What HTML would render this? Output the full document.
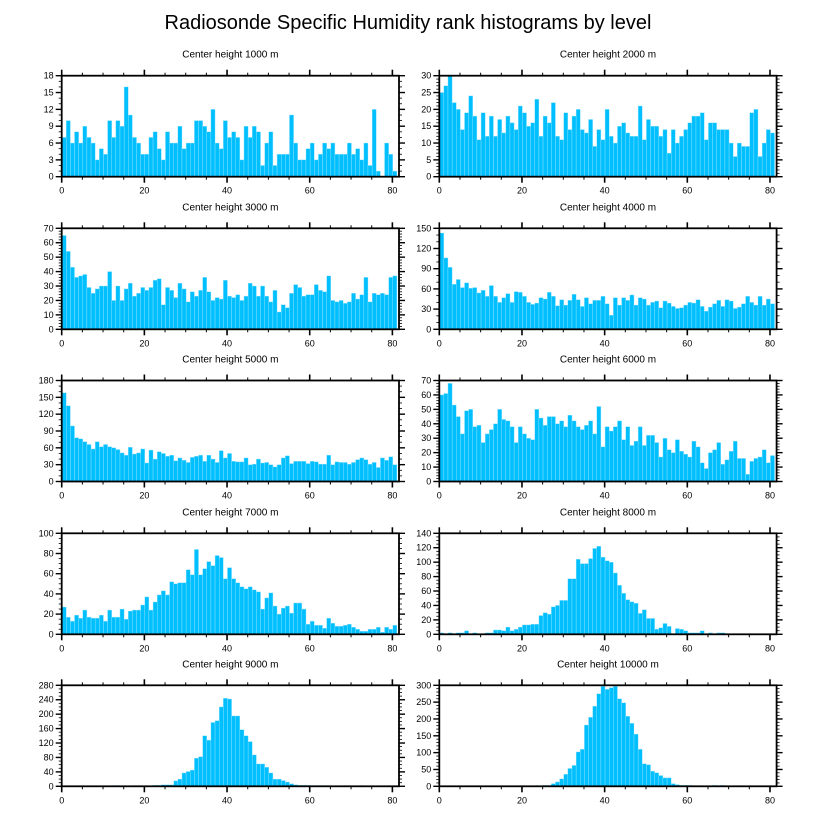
<!DOCTYPE html>
<html><head><meta charset="utf-8"><style>
html,body{margin:0;padding:0;background:#fff;}
svg{display:block;font-family:"Liberation Sans",sans-serif;}
</style></head><body>
<svg id="chart" width="816" height="824" viewBox="0 0 816 824" xmlns="http://www.w3.org/2000/svg">
<text x="408" y="29" text-anchor="middle" font-size="20" fill="#000">Radiosonde Specific Humidity rank histograms by level</text>
</svg>
<script>
const panelTitles = ["Center height 1000 m","Center height 2000 m","Center height 3000 m","Center height 4000 m","Center height 5000 m","Center height 6000 m","Center height 7000 m","Center height 8000 m","Center height 9000 m","Center height 10000 m"];
const yMaxes = [18,30,70,150,180,70,100,140,280,300];
const yMajor = [3,5,10,30,30,10,20,20,40,50];
const yMinor = [1,1,2,10,10,2,5,5,10,10];
const xTicks = [0,20,40,60,80];
const h1000 = [7,10,6,8,6,9,7,6,3,5,4,10,7,10,9,16,11,7,6,4,4,7,8,5,3,8,6,6,9,5,6,6,10,10,9,8,12,6,5,10,7,8,7,3,9,7,9,8,2,6,8,2,4,4,4,11,6,3,3,5,6,3,4,6,5,6,4,4,4,6,4,5,3,6,2,12,1,0,6,4,1];
const h2000 = [25,27,30,22,20,14,19,24,18,11,19,12,18,12,17,13,18,16,14,21,19,15,16,23,12,18,16,22,12,11,19,14,18,20,14,13,17,9,14,11,20,12,10,15,16,13,12,12,21,11,17,15,15,12,14,7,14,10,12,14,16,18,18,19,11,16,16,14,14,14,10,6,10,9,9,19,20,6,10,14,13];
const h3000 = [65,54,43,36,37,38,29,25,28,30,30,40,20,30,20,28,32,23,25,29,27,29,34,35,17,29,27,22,32,28,19,26,23,27,36,26,20,22,21,34,23,22,24,20,23,32,30,23,30,23,19,27,12,17,15,25,31,29,23,24,24,31,27,26,37,20,19,20,18,19,25,21,24,36,19,25,24,25,24,36,37];
const h4000 = [143,106,92,67,74,62,69,61,62,54,58,49,65,49,40,47,53,40,56,55,49,40,37,39,47,45,55,49,35,44,36,43,52,44,34,47,38,43,43,49,38,21,47,36,47,43,51,36,47,45,36,40,42,32,42,39,34,31,32,36,40,39,44,34,27,33,38,43,34,44,42,31,33,38,49,40,36,49,36,45,38];
const h5000 = [158,135,99,78,76,71,66,58,71,62,66,62,60,57,51,47,61,49,51,58,33,56,40,53,50,45,47,37,42,38,34,43,45,47,36,47,40,34,55,42,50,36,35,35,42,30,31,40,33,34,30,26,30,42,46,32,36,36,36,32,36,35,31,31,47,30,35,34,34,31,34,39,42,39,31,34,25,42,38,44,30];
const h6000 = [60,61,68,53,45,33,49,50,38,39,27,33,36,40,50,43,42,38,27,38,33,30,29,50,44,39,45,45,40,42,38,46,42,38,36,39,42,33,52,24,38,35,38,42,29,38,25,28,38,25,32,32,27,17,30,22,20,29,21,19,17,28,24,13,9,20,22,27,12,15,21,28,16,16,5,14,16,17,22,13,18];
const h7000 = [27,17,13,19,16,24,17,16,16,19,13,24,17,17,25,15,23,24,24,29,37,24,32,39,43,39,52,50,51,51,64,59,84,59,65,72,68,78,76,55,66,55,51,47,45,47,44,42,25,36,41,28,20,26,28,21,31,31,25,10,13,9,9,6,16,11,8,8,9,10,7,5,3,3,5,5,7,2,7,5,9];
const h8000 = [2,0,2,0,2,2,5,0,2,0,0,2,2,6,6,5,10,5,7,10,13,13,14,14,26,30,28,38,40,47,47,77,77,104,98,98,105,119,122,107,102,100,85,68,57,48,45,43,29,34,22,22,7,9,15,11,0,8,7,5,2,2,2,5,0,2,0,2,2,0,0,0,0,0,0,0,0,0,0,0,0];
const h9000 = [0,0,0,0,0,0,0,0,0,0,0,0,2,2,0,0,0,2,2,0,2,0,3,3,4,4,4,15,20,37,41,45,78,82,140,128,177,182,220,244,242,195,195,157,140,124,87,62,62,53,37,20,20,16,12,7,4,3,3,3,2,2,2,2,1,1,1,1,2,1,1,1,2,1,1,0,0,0,0,0,0];
const h10000 = [0,0,0,0,0,0,0,0,0,0,0,0,0,0,0,0,0,0,0,0,0,0,0,2,1,3,3,8,13,22,36,53,62,102,110,182,205,238,275,297,288,293,297,260,248,208,187,155,110,67,64,45,40,32,25,25,8,5,3,3,3,2,2,1,1,1,3,2,3,1,1,1,2,0,0,0,0,0,0,0,0];
const series = [h1000,h2000,h3000,h4000,h5000,h6000,h7000,h8000,h9000,h10000];

const NS = "http://www.w3.org/2000/svg";
const svg = document.getElementById("chart");
const X0 = [61.7, 439.3], PW = 337.3, PH = 101;
const TOPS = [75.7, 228.3, 380.5, 533.3, 685.3];
const XMAX = 81.6;
function mk(tag, attrs, parent) {
  const e = document.createElementNS(NS, tag);
  for (const k in attrs) e.setAttribute(k, attrs[k]);
  (parent || svg).appendChild(e);
  return e;
}
series.forEach((vals, p) => {
  const col = p % 2, row = Math.floor(p / 2);
  const left = X0[col], top = TOPS[row], bottom = top + PH, right = left + PW;
  const ymax = yMaxes[p];
  const xs = v => left + v / XMAX * PW;
  const ys = v => bottom - v / ymax * PH;
  const g = mk("g", {});
  
  
  const t = mk("text", {x: (left + right) / 2, y: top - 18, "text-anchor": "middle", "font-size": "10", fill: "#000"}, g);
  
  
  t.textContent = panelTitles[p];
  vals.forEach((v, i) => {
    const b = mk("rect", {x: xs(i + 0.1), y: ys(v), width: xs(1) - left, height: bottom - ys(v), fill: "#00bfff", stroke: "#9be3ff", "stroke-width": "0.4"}, g);
    
    
  });
  for (let v = 0; v <= 80; v += 5) {
    const x = xs(v), major = v % 20 === 0, len = major ? 6 : 3;
    mk("line", {x1: x, x2: x, y1: bottom, y2: bottom + len, stroke: "#000", "stroke-width": major ? 1.6 : 1}, g);
    mk("line", {x1: x, x2: x, y1: top, y2: top - len, stroke: "#000", "stroke-width": major ? 1.6 : 1}, g);
  }
  xTicks.forEach(v => {
    const tl = mk("text", {x: xs(v), y: bottom + 17, "text-anchor": "middle", "font-size": "9", fill: "#000"}, g);
    
    
    tl.textContent = v;
  });
  for (let v = 0; v <= ymax + 1e-9; v += yMinor[p]) {
    const y = ys(v), major = Math.abs(v / yMajor[p] - Math.round(v / yMajor[p])) < 1e-6, len = major ? 6 : 3;
    mk("line", {x1: left, x2: left - len, y1: y, y2: y, stroke: "#000", "stroke-width": major ? 1.4 : 0.8}, g);
    mk("line", {x1: right, x2: right + len, y1: y, y2: y, stroke: "#000", "stroke-width": major ? 1.4 : 0.8}, g);
    if (major) {
      const yl = mk("text", {x: left - 8, y: y + 3, "text-anchor": "end", "font-size": "9", fill: "#000"}, g);
      
      
      yl.textContent = Math.round(v);
    }
  }
  const fr = mk("rect", {x: left, y: top, width: PW, height: PH, fill: "none", stroke: "#000", "stroke-width": "1.8"}, g);
  
  
});
</script>
</body></html>
